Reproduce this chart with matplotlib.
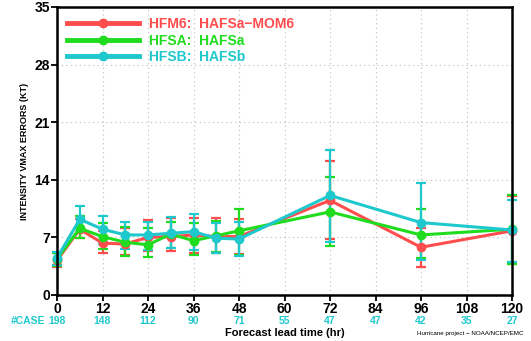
import matplotlib
matplotlib.use("Agg")
import matplotlib.pyplot as plt
from matplotlib.lines import Line2D

hours = [0, 6, 12, 18, 24, 30, 36, 42, 48, 72, 96, 120]

hfm6 = [4.2, 8.0, 6.3, 6.2, 7.0, 7.1, 7.3, 7.1, 7.1, 11.5, 5.8, 7.8]
hfm6_lo = [3.4, 6.9, 5.1, 4.9, 5.3, 5.3, 5.1, 5.1, 5.0, 6.8, 3.4, 3.8]
hfm6_hi = [5.1, 9.2, 7.8, 8.2, 9.1, 9.3, 9.3, 9.4, 9.2, 16.3, 8.2, 12.0]

hfsa = [4.4, 8.1, 7.1, 6.4, 6.1, 7.4, 6.6, 7.2, 7.8, 10.1, 7.3, 8.0]
hfsa_lo = [3.5, 6.9, 5.6, 4.7, 4.6, 5.7, 4.9, 5.2, 4.9, 6.0, 4.5, 3.8]
hfsa_hi = [5.1, 9.6, 8.8, 8.3, 8.1, 8.9, 8.8, 9.0, 10.5, 14.3, 10.5, 12.1]

hfsb = [4.5, 9.2, 8.0, 7.3, 7.3, 7.5, 7.7, 6.9, 6.8, 12.1, 8.8, 7.9]
hfsb_lo = [3.6, 7.6, 6.2, 5.6, 5.5, 5.7, 5.5, 5.1, 4.8, 6.5, 4.2, 4.0]
hfsb_hi = [5.2, 10.8, 9.6, 8.9, 8.9, 9.5, 9.8, 8.7, 8.9, 17.6, 13.6, 11.5]

case_hours = [0, 12, 24, 36, 48, 60, 72, 84, 96, 108, 120]
cases = [198, 148, 112, 90, 71, 55, 47, 47, 42, 35, 27]

series = [
    ("HFM6:  HAFSa\u2212MOM6", hfm6, hfm6_lo, hfm6_hi, "#ff4d4d"),
    ("HFSA:  HAFSa", hfsa, hfsa_lo, hfsa_hi, "#1fdc1f"),
    ("HFSB:  HAFSb", hfsb, hfsb_lo, hfsb_hi, "#1ec8cc"),
]

plt.rcParams["font.family"] = ["Liberation Sans", "DejaVu Sans"]
plt.rcParams["font.weight"] = "bold"

fig = plt.figure(figsize=(5.31, 3.41), dpi=100)
ax = fig.add_axes([57 / 531, 46 / 341, 455 / 531, 288 / 341])

handles = []
for name, vals, lo, hi, col in series:
    err = [[v - l for v, l in zip(vals, lo)], [h - v for v, h in zip(vals, hi)]]
    ax.errorbar(hours, vals, yerr=err, color=col, lw=2.2, marker="o", ms=6,
                elinewidth=1.6, capsize=3.5, capthick=1.6, clip_on=False)
    handles.append(Line2D([], [], color=col, lw=3.5, marker="o", ms=6, label=name))

ax.set_xlim(0, 120)
ax.set_ylim(0, 35)
ax.set_xticks(range(0, 121, 12))
ax.set_yticks(range(0, 36, 7))
ax.grid(True, ls=(0, (1, 3)), color="#bbbbbb", lw=0.8)
for s in ax.spines.values():
    s.set_linewidth(1.8)
ax.tick_params(labelsize=10, width=1.3, length=4, pad=1)
for lab in ax.get_xticklabels() + ax.get_yticklabels():
    lab.set_fontweight("bold")

ax.set_ylabel("INTENSITY VMAX ERRORS (KT)", fontsize=6.5, fontweight="bold", labelpad=4)

leg = ax.legend(handles=handles, loc="upper left", frameon=False, fontsize=10,
                handlelength=5.2, borderaxespad=0.3, labelspacing=0.2, handletextpad=0.7)
for txt, (_, _, _, _, col) in zip(leg.get_texts(), series):
    txt.set_color(col)
    txt.set_fontweight("bold")

xtr = ax.get_xaxis_transform()
ax.text(-3.0, -0.09, "#CASE", transform=xtr, ha="right", va="center",
        color="#1ec8cc", fontsize=7.5, fontweight="bold")
for h, c in zip(case_hours, cases):
    ax.text(h, -0.09, str(c), transform=xtr, ha="center", va="center",
            color="#1ec8cc", fontsize=7.5, fontweight="bold")

ax.text(0.5, -0.132, "Forecast lead time (hr)", transform=ax.transAxes, ha="center",
        va="center", fontsize=8, fontweight="bold")
fig.text(0.985, 0.022, "Hurricane project \u2212 NOAA/NCEP/EMC", ha="right", va="center",
         fontsize=4.5, fontweight="normal")

fig.savefig("out.png", dpi=100)
